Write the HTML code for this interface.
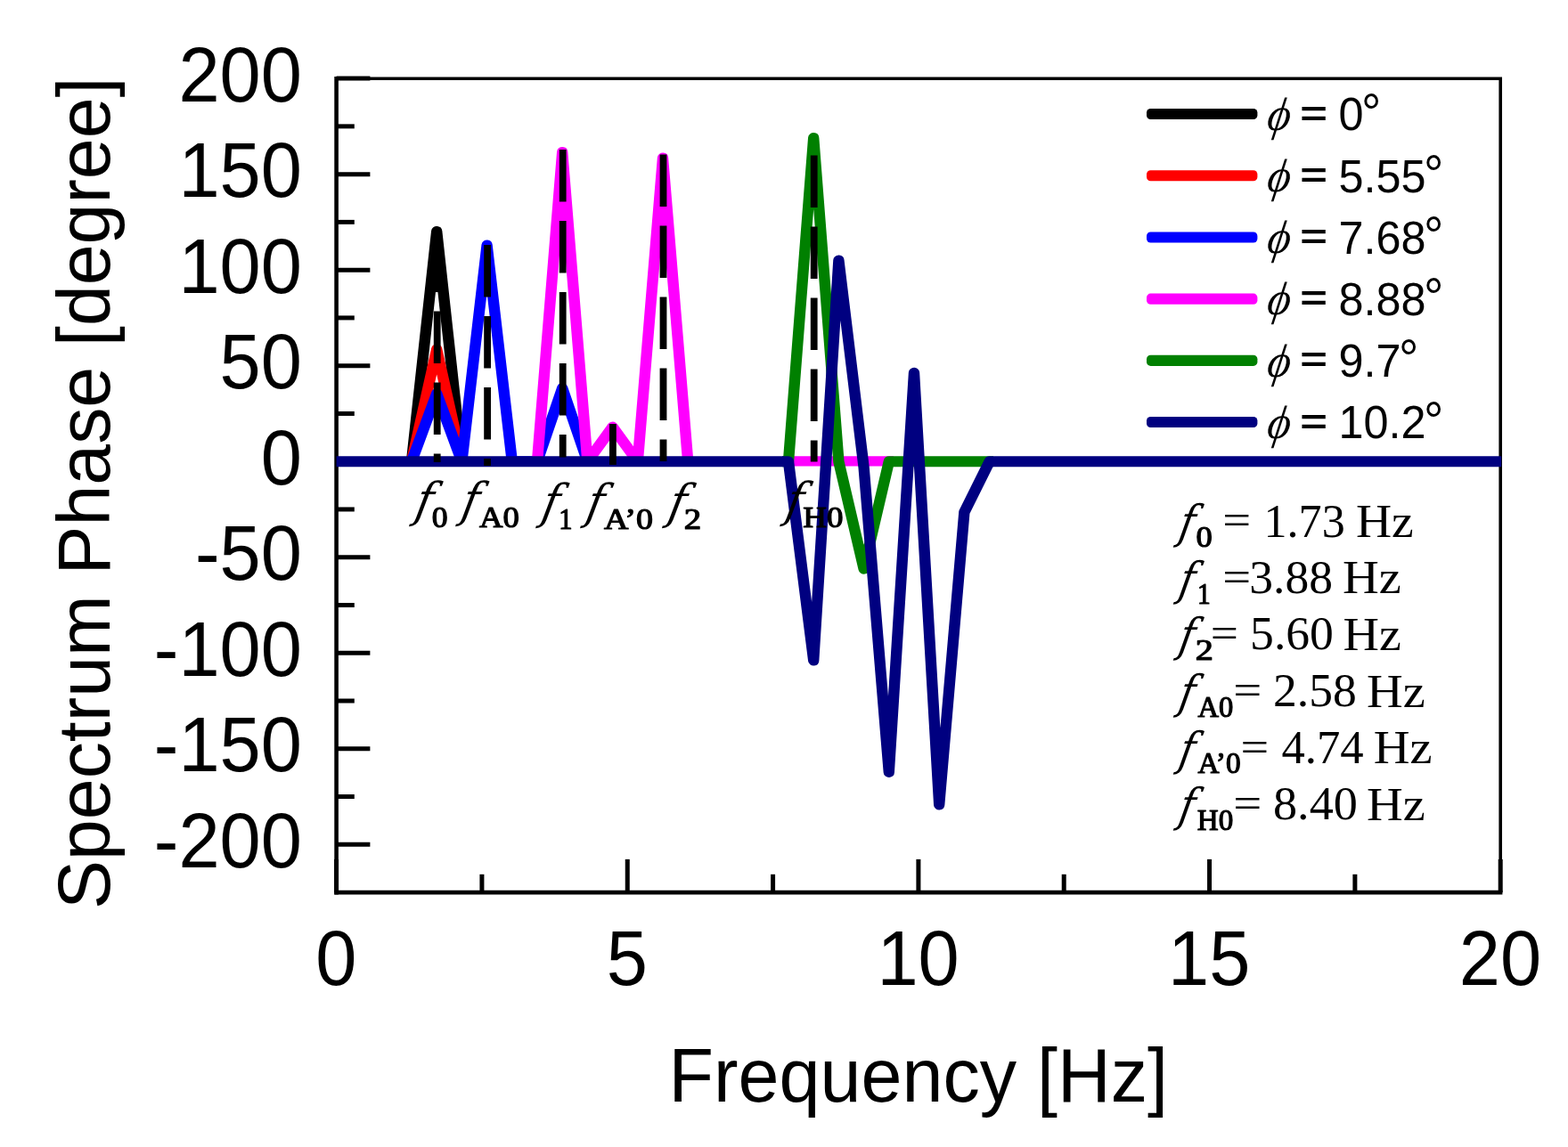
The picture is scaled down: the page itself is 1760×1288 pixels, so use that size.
<!DOCTYPE html>
<html lang="en"><head><meta charset="utf-8"><title>Spectrum Phase vs Frequency</title>
<style>
html,body{margin:0;padding:0;background:#fff;}
body{width:1760px;height:1288px;overflow:hidden;font-family:"Liberation Sans",sans-serif;}
svg{display:block;}
.ser{fill:none;stroke-width:12;stroke-linejoin:round;stroke-linecap:butt;}
.dash{fill:none;stroke:#000;stroke-width:7.8;}
.ax{fill:none;stroke:#000;stroke-linecap:butt;}
.tk{fill:none;stroke:#000;stroke-width:5;stroke-linecap:butt;}
text{fill:#000;}
</style></head><body>
<svg width="1760" height="1288" viewBox="0 0 1760 1288" role="img" aria-label="Spectrum phase versus frequency">
<rect width="1760" height="1288" fill="#ffffff"/>
<g id="frame">
<line class="ax" x1="377.6" y1="86.0" x2="377.6" y2="1004.6" stroke-width="4.6"/>
<line class="ax" x1="375.3" y1="1002.2" x2="1686.4" y2="1002.2" stroke-width="4.8"/>
<line class="ax" x1="377.6" y1="88.2" x2="1686.0" y2="88.2" stroke-width="3.6"/>
<line class="ax" x1="1684.2" y1="88.2" x2="1684.2" y2="1002.2" stroke-width="3.6"/>
</g>
<g id="ticks">
<line class="tk" x1="377.6" y1="948.30" x2="415.4" y2="948.30"/>
<line class="tk" x1="377.6" y1="894.54" x2="397.8" y2="894.54"/>
<line class="tk" x1="377.6" y1="840.78" x2="415.4" y2="840.78"/>
<line class="tk" x1="377.6" y1="787.01" x2="397.8" y2="787.01"/>
<line class="tk" x1="377.6" y1="733.25" x2="415.4" y2="733.25"/>
<line class="tk" x1="377.6" y1="679.49" x2="397.8" y2="679.49"/>
<line class="tk" x1="377.6" y1="625.73" x2="415.4" y2="625.73"/>
<line class="tk" x1="377.6" y1="571.96" x2="397.8" y2="571.96"/>
<line class="tk" x1="377.6" y1="518.20" x2="415.4" y2="518.20"/>
<line class="tk" x1="377.6" y1="464.44" x2="397.8" y2="464.44"/>
<line class="tk" x1="377.6" y1="410.68" x2="415.4" y2="410.68"/>
<line class="tk" x1="377.6" y1="356.91" x2="397.8" y2="356.91"/>
<line class="tk" x1="377.6" y1="303.15" x2="415.4" y2="303.15"/>
<line class="tk" x1="377.6" y1="249.39" x2="397.8" y2="249.39"/>
<line class="tk" x1="377.6" y1="195.63" x2="415.4" y2="195.63"/>
<line class="tk" x1="377.6" y1="141.86" x2="397.8" y2="141.86"/>
<line class="tk" x1="377.6" y1="88.10" x2="415.4" y2="88.10"/>
<line class="tk" x1="377.60" y1="1002.2" x2="377.60" y2="964.9"/>
<line class="tk" x1="540.92" y1="1002.2" x2="540.92" y2="981.8"/>
<line class="tk" x1="704.25" y1="1002.2" x2="704.25" y2="964.9"/>
<line class="tk" x1="867.58" y1="1002.2" x2="867.58" y2="981.8"/>
<line class="tk" x1="1030.90" y1="1002.2" x2="1030.90" y2="964.9"/>
<line class="tk" x1="1194.22" y1="1002.2" x2="1194.22" y2="981.8"/>
<line class="tk" x1="1357.55" y1="1002.2" x2="1357.55" y2="964.9"/>
<line class="tk" x1="1520.88" y1="1002.2" x2="1520.88" y2="981.8"/>
<line class="tk" x1="1684.20" y1="1002.2" x2="1684.20" y2="964.9"/>
</g>
<defs><clipPath id="above0"><rect x="0" y="0" width="1760" height="523.6"/></clipPath></defs>
<g id="series" transform="scale(1.03 1)">
<g clip-path="url(#above0)">
<polyline class="ser" stroke="#000000" points="448.54,518.30 475.92,259.96 503.30,518.30"/>
<polyline class="ser" stroke="#ff0000" points="448.54,518.30 475.92,392.25 503.30,518.30"/>
<polyline class="ser" stroke="#0000ff" points="448.54,518.30 475.92,441.94 503.30,518.30 530.68,275.45 558.06,518.30 585.44,518.30 612.82,435.92 640.19,518.30"/>
<polyline class="ser" stroke="#ff00ff" points="585.44,518.30 612.82,170.91 640.19,518.30 667.57,479.58 694.95,518.30 722.33,177.58 749.71,518.30"/>
<polyline class="ser" stroke="#ff00ff" points="852.43,518.30 973.79,518.30"/>
</g>
<polyline class="ser" stroke="#008000" points="852.43,518.30 859.22,518.30 886.60,155.00 913.98,518.30 941.36,638.76 968.74,518.30 1082.52,518.30"/>
<polyline class="ser" stroke="#000080" points="366.60,518.30 859.22,518.30 886.60,741.57 913.98,292.44 941.36,524.75 968.74,866.98 996.12,418.71 1023.50,903.54 1050.87,575.09 1078.25,518.30 1636.12,518.30"/>
</g>
<g id="markers">
<line class="dash" x1="490.70" y1="269.50" x2="490.70" y2="519.00" stroke-dasharray="58.5 21.5"/>
<line class="dash" x1="547.10" y1="275.00" x2="547.10" y2="523.00" stroke-dasharray="58.5 21.5"/>
<line class="dash" x1="631.70" y1="168.00" x2="631.70" y2="513.50" stroke-dasharray="58.5 21.5"/>
<line class="dash" x1="687.90" y1="476" x2="687.90" y2="522"/>
<line class="dash" x1="744.50" y1="173.50" x2="744.50" y2="518.00" stroke-dasharray="58.5 21.5"/>
<line class="dash" x1="913.70" y1="174.60" x2="913.70" y2="518.50" stroke-dasharray="58.5 21.5"/>
</g>
<g id="legend">
<rect x="1287.0" y="122.00" width="124.4" height="12.1" rx="4.5" ry="4.5" fill="#000000"/>
<text transform="translate(1420.68 145.76) scale(1 1.0426) skewX(-9)" font-size="50.41" font-family="Liberation Serif, serif" font-style="italic" >ϕ</text>
<text transform="translate(1459.30 140.53) scale(1 0.7505) " font-size="52.60" font-family="Liberation Sans, sans-serif" font-weight="bold" >=</text>
<text transform="translate(1502.45 146.30) scale(1 1.045)" font-size="50.4" font-family="Liberation Sans, sans-serif">0<tspan font-size="56" dx="-2.4" dy="0.2">°</tspan></text>
<rect x="1287.0" y="191.20" width="124.4" height="12.1" rx="4.5" ry="4.5" fill="#ff0000"/>
<text transform="translate(1420.68 214.96) scale(1 1.0426) skewX(-9)" font-size="50.41" font-family="Liberation Serif, serif" font-style="italic" >ϕ</text>
<text transform="translate(1459.30 209.73) scale(1 0.7505) " font-size="52.60" font-family="Liberation Sans, sans-serif" font-weight="bold" >=</text>
<text transform="translate(1502.45 215.50) scale(1 1.045)" font-size="50.4" font-family="Liberation Sans, sans-serif">5.55<tspan font-size="56" dx="-2.4" dy="0.2">°</tspan></text>
<rect x="1287.0" y="260.40" width="124.4" height="12.1" rx="4.5" ry="4.5" fill="#0000ff"/>
<text transform="translate(1420.68 284.16) scale(1 1.0426) skewX(-9)" font-size="50.41" font-family="Liberation Serif, serif" font-style="italic" >ϕ</text>
<text transform="translate(1459.30 278.93) scale(1 0.7505) " font-size="52.60" font-family="Liberation Sans, sans-serif" font-weight="bold" >=</text>
<text transform="translate(1502.45 284.70) scale(1 1.045)" font-size="50.4" font-family="Liberation Sans, sans-serif">7.68<tspan font-size="56" dx="-2.4" dy="0.2">°</tspan></text>
<rect x="1287.0" y="329.60" width="124.4" height="12.1" rx="4.5" ry="4.5" fill="#ff00ff"/>
<text transform="translate(1420.68 353.36) scale(1 1.0426) skewX(-9)" font-size="50.41" font-family="Liberation Serif, serif" font-style="italic" >ϕ</text>
<text transform="translate(1459.30 348.13) scale(1 0.7505) " font-size="52.60" font-family="Liberation Sans, sans-serif" font-weight="bold" >=</text>
<text transform="translate(1502.45 353.90) scale(1 1.045)" font-size="50.4" font-family="Liberation Sans, sans-serif">8.88<tspan font-size="56" dx="-2.4" dy="0.2">°</tspan></text>
<rect x="1287.0" y="398.80" width="124.4" height="12.1" rx="4.5" ry="4.5" fill="#008000"/>
<text transform="translate(1420.68 422.56) scale(1 1.0426) skewX(-9)" font-size="50.41" font-family="Liberation Serif, serif" font-style="italic" >ϕ</text>
<text transform="translate(1459.30 417.33) scale(1 0.7505) " font-size="52.60" font-family="Liberation Sans, sans-serif" font-weight="bold" >=</text>
<text transform="translate(1502.45 423.10) scale(1 1.045)" font-size="50.4" font-family="Liberation Sans, sans-serif">9.7<tspan font-size="56" dx="-2.4" dy="0.2">°</tspan></text>
<rect x="1287.0" y="468.00" width="124.4" height="12.1" rx="4.5" ry="4.5" fill="#000080"/>
<text transform="translate(1420.68 491.76) scale(1 1.0426) skewX(-9)" font-size="50.41" font-family="Liberation Serif, serif" font-style="italic" >ϕ</text>
<text transform="translate(1459.30 486.53) scale(1 0.7505) " font-size="52.60" font-family="Liberation Sans, sans-serif" font-weight="bold" >=</text>
<text transform="translate(1502.45 492.30) scale(1 1.045)" font-size="50.4" font-family="Liberation Sans, sans-serif">10.2<tspan font-size="56" dx="-2.4" dy="0.2">°</tspan></text>
</g>
<g id="ylabels">
<text transform="translate(338.9 974.00) scale(1 1.045)" font-size="83.0" text-anchor="end" font-family="Liberation Sans, sans-serif">-200</text>
<text transform="translate(338.9 866.45) scale(1 1.045)" font-size="83.0" text-anchor="end" font-family="Liberation Sans, sans-serif">-150</text>
<text transform="translate(338.9 758.90) scale(1 1.045)" font-size="83.0" text-anchor="end" font-family="Liberation Sans, sans-serif">-100</text>
<text transform="translate(338.9 651.35) scale(1 1.045)" font-size="83.0" text-anchor="end" font-family="Liberation Sans, sans-serif">-50</text>
<text transform="translate(338.9 543.80) scale(1 1.045)" font-size="83.0" text-anchor="end" font-family="Liberation Sans, sans-serif">0</text>
<text transform="translate(338.9 436.25) scale(1 1.045)" font-size="83.0" text-anchor="end" font-family="Liberation Sans, sans-serif">50</text>
<text transform="translate(338.9 328.70) scale(1 1.045)" font-size="83.0" text-anchor="end" font-family="Liberation Sans, sans-serif">100</text>
<text transform="translate(338.9 221.15) scale(1 1.045)" font-size="83.0" text-anchor="end" font-family="Liberation Sans, sans-serif">150</text>
<text transform="translate(338.9 113.60) scale(1 1.045)" font-size="83.0" text-anchor="end" font-family="Liberation Sans, sans-serif">200</text>
</g>
<g id="xlabels">
<text transform="translate(377.30 1106.3) scale(1 1.045)" font-size="83.0" text-anchor="middle" font-family="Liberation Sans, sans-serif">0</text>
<text transform="translate(703.95 1106.3) scale(1 1.045)" font-size="83.0" text-anchor="middle" font-family="Liberation Sans, sans-serif">5</text>
<text transform="translate(1030.60 1106.3) scale(1 1.045)" font-size="83.0" text-anchor="middle" font-family="Liberation Sans, sans-serif">10</text>
<text transform="translate(1357.25 1106.3) scale(1 1.045)" font-size="83.0" text-anchor="middle" font-family="Liberation Sans, sans-serif">15</text>
<text transform="translate(1683.90 1106.3) scale(1 1.045)" font-size="83.0" text-anchor="middle" font-family="Liberation Sans, sans-serif">20</text>
</g>
<g id="titles">
<text transform="translate(750.38 1236.9) scale(1 1.025)" font-size="82.70" font-family="Liberation Sans, sans-serif">Frequency [Hz]</text>
<text transform="translate(123.20 1020.92) rotate(-90) scale(1 1.0200)" font-size="82.41" font-family="Liberation Sans, sans-serif">Spectrum Phase [degree]</text>
</g>
<g id="flabels">
<text transform="translate(464.29 579.70) scale(1 1.0791) skewX(-12)" font-size="49.87" font-family="DejaVu Serif, Liberation Serif, serif" font-style="italic" >f</text>
<text transform="translate(484.69 591.84) scale(1 0.9560) " font-size="35.65" font-family="Liberation Serif, serif" stroke="#000" stroke-linejoin="round" stroke-width="1.28" >0</text>
<text transform="translate(516.24 579.70) scale(1 1.0905) skewX(-12)" font-size="49.35" font-family="DejaVu Serif, Liberation Serif, serif" font-style="italic" >f</text>
<text transform="translate(537.97 591.88) scale(1 0.9008) " font-size="36.69" font-family="Liberation Serif, serif" stroke="#000" stroke-linejoin="round" stroke-width="1.32" >A0</text>
<text transform="translate(606.26 581.92) scale(1 1.0827) skewX(-12)" font-size="49.61" font-family="DejaVu Serif, Liberation Serif, serif" font-style="italic" >f</text>
<text transform="translate(627.26 594.23) scale(1 1.0909) " font-size="30.51" font-family="Liberation Serif, serif" stroke="#000" stroke-linejoin="round" stroke-width="1.10" >1</text>
<text transform="translate(656.36 581.92) scale(1 1.0827) skewX(-12)" font-size="49.61" font-family="DejaVu Serif, Liberation Serif, serif" font-style="italic" >f</text>
<text transform="translate(678.08 593.79) scale(1 0.8596) " font-size="37.97" font-family="Liberation Serif, serif" stroke="#000" stroke-linejoin="round" stroke-width="1.37" >A’0</text>
<text transform="translate(748.34 581.92) scale(1 1.0659) skewX(-12)" font-size="50.39" font-family="DejaVu Serif, Liberation Serif, serif" font-style="italic" >f</text>
<text transform="translate(767.83 594.22) scale(1 0.8695) " font-size="38.84" font-family="Liberation Serif, serif" stroke="#000" stroke-linejoin="round" stroke-width="1.40" >2</text>
<text transform="translate(880.22 579.74) scale(1 1.0891) skewX(-12)" font-size="49.22" font-family="DejaVu Serif, Liberation Serif, serif" font-style="italic" >f</text>
<text transform="translate(901.23 592.04) scale(1 0.9180) " font-size="36.97" font-family="Liberation Serif, serif" stroke="#000" stroke-linejoin="round" stroke-width="1.33" >H0</text>
</g>
<g id="freqs">
<text transform="translate(1321.62 604.25) scale(1 1.1428) skewX(-12)" font-size="45.19" font-family="DejaVu Serif, Liberation Serif, serif" font-style="italic" >f</text>
<text transform="translate(1342.57 613.85) scale(1 0.9256) " font-size="36.52" font-family="Liberation Serif, serif" stroke="#000" stroke-linejoin="round" stroke-width="1.31" >0</text>
<text transform="translate(1372.27 600.18) scale(1 0.8481) " font-size="56.60" font-family="Liberation Serif, serif" >=</text>
<text transform="translate(1418.51 602.77) scale(1 1.0129) " font-size="52.16" font-family="Liberation Serif, serif" >1.73</text>
<text transform="translate(1521.93 602.70) scale(1 0.9410) " font-size="55.59" font-family="Liberation Serif, serif" >Hz</text>
<text transform="translate(1321.62 667.85) scale(1 1.1428) skewX(-12)" font-size="45.19" font-family="DejaVu Serif, Liberation Serif, serif" font-style="italic" >f</text>
<text transform="translate(1343.94 677.63) scale(1 1.1385) " font-size="29.49" font-family="Liberation Serif, serif" stroke="#000" stroke-linejoin="round" stroke-width="1.06" >1</text>
<text transform="translate(1372.27 663.78) scale(1 0.8481) " font-size="56.60" font-family="Liberation Serif, serif" >=</text>
<text transform="translate(1402.22 665.84) scale(1 0.9866) " font-size="53.55" font-family="Liberation Serif, serif" >3.88</text>
<text transform="translate(1507.01 666.30) scale(1 0.9260) " font-size="56.49" font-family="Liberation Serif, serif" >Hz</text>
<text transform="translate(1321.62 731.45) scale(1 1.1428) skewX(-12)" font-size="45.19" font-family="DejaVu Serif, Liberation Serif, serif" font-style="italic" >f</text>
<text transform="translate(1341.79 741.22) scale(1 0.8465) " font-size="40.23" font-family="Liberation Serif, serif" stroke="#000" stroke-linejoin="round" stroke-width="1.45" >2</text>
<text transform="translate(1358.83 727.38) scale(1 0.8677) " font-size="55.32" font-family="Liberation Serif, serif" >=</text>
<text transform="translate(1403.08 729.44) scale(1 0.9851) " font-size="53.64" font-family="Liberation Serif, serif" >5.60</text>
<text transform="translate(1507.52 729.90) scale(1 0.9335) " font-size="56.04" font-family="Liberation Serif, serif" >Hz</text>
<text transform="translate(1321.62 795.05) scale(1 1.1428) skewX(-12)" font-size="45.19" font-family="DejaVu Serif, Liberation Serif, serif" font-style="italic" >f</text>
<text transform="translate(1344.43 804.67) scale(1 1.0237) " font-size="32.56" font-family="Liberation Serif, serif" stroke="#000" stroke-linejoin="round" stroke-width="1.17" >A0</text>
<text transform="translate(1384.16 790.98) scale(1 0.8449) " font-size="56.81" font-family="Liberation Serif, serif" >=</text>
<text transform="translate(1429.06 793.04) scale(1 0.9859) " font-size="53.59" font-family="Liberation Serif, serif" >2.58</text>
<text transform="translate(1533.91 793.50) scale(1 0.9275) " font-size="56.40" font-family="Liberation Serif, serif" >Hz</text>
<text transform="translate(1321.62 858.65) scale(1 1.1428) skewX(-12)" font-size="45.19" font-family="DejaVu Serif, Liberation Serif, serif" font-style="italic" >f</text>
<text transform="translate(1344.43 868.27) scale(1 0.9993) " font-size="33.36" font-family="Liberation Serif, serif" stroke="#000" stroke-linejoin="round" stroke-width="1.20" >A’0</text>
<text transform="translate(1392.59 854.58) scale(1 0.8545) " font-size="56.17" font-family="Liberation Serif, serif" >=</text>
<text transform="translate(1438.45 857.16) scale(1 1.0180) " font-size="52.69" font-family="Liberation Serif, serif" >4.74</text>
<text transform="translate(1541.81 857.10) scale(1 0.9260) " font-size="56.49" font-family="Liberation Serif, serif" >Hz</text>
<text transform="translate(1321.62 922.25) scale(1 1.1428) skewX(-12)" font-size="45.19" font-family="DejaVu Serif, Liberation Serif, serif" font-style="italic" >f</text>
<text transform="translate(1343.77 931.85) scale(1 1.0209) " font-size="33.11" font-family="Liberation Serif, serif" stroke="#000" stroke-linejoin="round" stroke-width="1.19" >H0</text>
<text transform="translate(1384.16 918.18) scale(1 0.8449) " font-size="56.81" font-family="Liberation Serif, serif" >=</text>
<text transform="translate(1429.03 920.24) scale(1 0.9750) " font-size="54.19" font-family="Liberation Serif, serif" >8.40</text>
<text transform="translate(1533.91 920.70) scale(1 0.9275) " font-size="56.40" font-family="Liberation Serif, serif" >Hz</text>
</g>
</svg>
</body></html>
